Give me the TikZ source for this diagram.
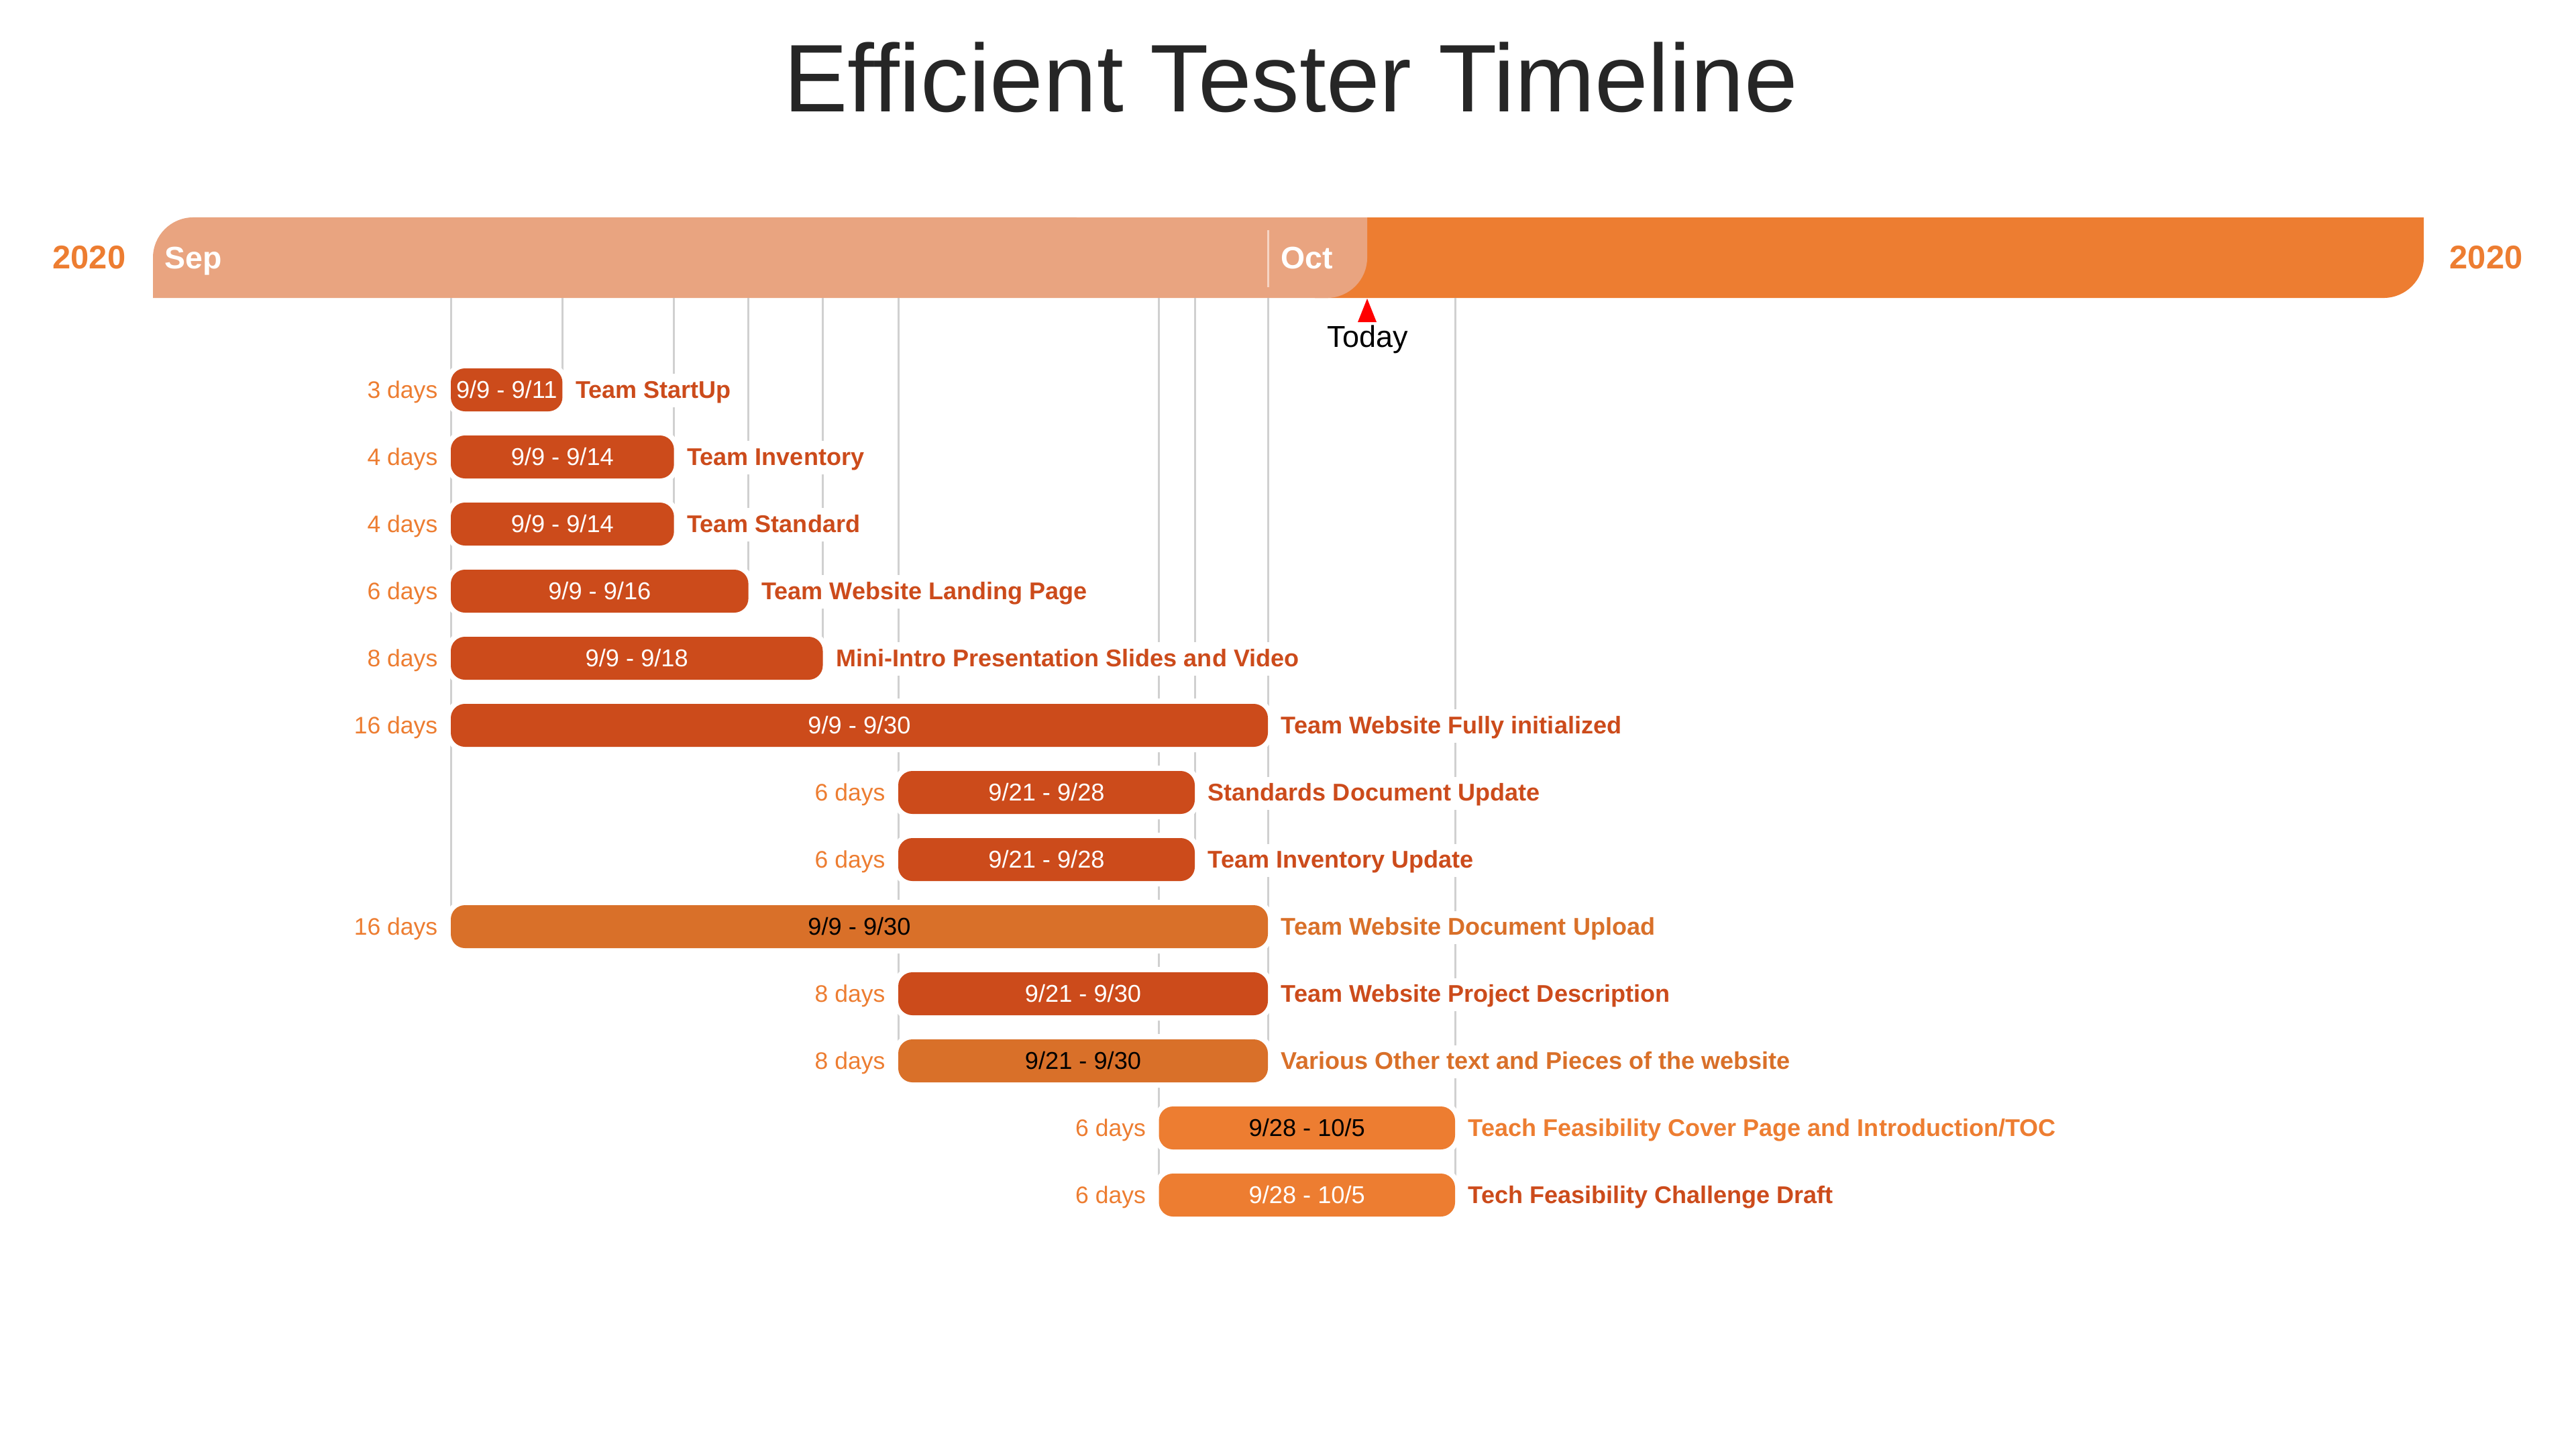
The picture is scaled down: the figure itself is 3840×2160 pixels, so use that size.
\documentclass[tikz,border=0pt]{standalone}
\usepackage{fontspec}
\setmainfont{Liberation Sans}
\definecolor{hdrlight}{RGB}{233,164,128}
\definecolor{hdrdark}{RGB}{237,125,49}
\definecolor{bardark}{RGB}{204,75,27}
\definecolor{barmid}{RGB}{217,112,41}
\definecolor{barlight}{RGB}{237,125,49}
\definecolor{gridgray}{RGB}{208,208,208}
\definecolor{titlegray}{RGB}{38,38,38}
\tikzset{
  gridline/.style={draw=gridgray, line width=0.03cm},
  daylbl/.style={anchor=base east, font=\fontsize{10.1pt}{12pt}\selectfont, text=hdrdark, fill=white, inner xsep=0pt, inner ysep=0.05cm, text height=0.31cm, text depth=0.08cm},
  tasklbl/.style={anchor=base west, font=\bfseries\fontsize{10.25pt}{12pt}\selectfont, fill=white, inner xsep=0pt, inner ysep=0.05cm, text height=0.31cm, text depth=0.08cm},
  datelbl/.style={anchor=base, font=\fontsize{10.3pt}{12pt}\selectfont, inner sep=0pt},
  hdrlbl/.style={anchor=base, font=\bfseries\fontsize{13.9pt}{16pt}\selectfont, inner sep=0pt},
  monthlbl/.style={anchor=base west, text=white, font=\bfseries\fontsize{13.2pt}{16pt}\selectfont, inner sep=0pt},
}
\newcounter{rowc}
% \taskrow{y}{x1}{x2}{barcolor}{datecolor}{labelcolor}{dates}{days}{label}
\newcommand{\taskrow}[9]{%
  \stepcounter{rowc}%
  \fill[white, rounded corners=0.29cm] ({#2-8},{-(#1-40)}) rectangle ({#3+8},{-(#1+40)});
  \fill[#4, rounded corners=0.21cm] (#2,{-(#1-32)}) rectangle (#3,{-(#1+32)});
  \node[datelbl, text=#5] (date\arabic{rowc}) at ({(#2+#3)/2},{-(#1+12.5)}) {#7};
  \node[daylbl] (days\arabic{rowc}) at ({#2-19},{-(#1+12.5)}) {#8};
  \node[tasklbl, text=#6] (task\arabic{rowc}) at ({#3+19},{-(#1+12.5)}) {#9};
}
\begin{document}
\begin{tikzpicture}[x=0.01cm, y=0.01cm]
\useasboundingbox (0,0) rectangle (3840,-2160);
% title
\node[anchor=base, font=\fontsize{40.7pt}{48pt}\selectfont, text=titlegray, inner sep=0pt] (title) at (1924,-166) {Efficient Tester Timeline};
% header
\fill[hdrdark] (1960,-324) -- (3613,-324) -- (3613,-384) arc[start angle=0, end angle=-90, radius=0.6cm] -- (1960,-444) -- cycle;
\fill[hdrlight] (228,-444) -- (228,-384) arc[start angle=180, end angle=90, radius=0.6cm] -- (2038,-324) -- (2038,-384) arc[start angle=0, end angle=-90, radius=0.6cm] -- cycle;
\draw[white, opacity=0.55, line width=0.03cm] (1890,-343) -- (1890,-428);
\node[hdrlbl, text=hdrdark] (yl) at (133,-400) {2020};
\node[hdrlbl, text=hdrdark] (yr) at (3706,-400) {2020};
\node[monthlbl] (sep) at (245,-400) {Sep};
\node[monthlbl] (oct) at (1909,-400) {Oct};
% today
\fill[red] (2038,-445) -- (2052,-480) -- (2024,-480) -- cycle;
\node[anchor=base, font=\fontsize{12.8pt}{15pt}\selectfont, inner sep=0pt] (today) at (2039,-517) {Today};
% grid lines
\draw[gridline] (672,-444) -- (672,-1381);
\draw[gridline] (838.4,-444) -- (838.4,-581);
\draw[gridline] (1004.7,-444) -- (1004.7,-781);
\draw[gridline] (1115.6,-444) -- (1115.6,-881);
\draw[gridline] (1226.5,-444) -- (1226.5,-981);
\draw[gridline] (1339,-444) -- (1339,-1581);
\draw[gridline] (1727.5,-444) -- (1727.5,-1781);
\draw[gridline] (1781,-444) -- (1781,-1281);
\draw[gridline] (1890,-444) -- (1890,-1581);
\draw[gridline] (2169,-444) -- (2169,-1781);
% tasks
\taskrow{581}{672}{838.4}{bardark}{white}{bardark}{9/9 - 9/11}{3 days}{Team StartUp}
\taskrow{681}{672}{1004.7}{bardark}{white}{bardark}{9/9 - 9/14}{4 days}{Team Inventory}
\taskrow{781}{672}{1004.7}{bardark}{white}{bardark}{9/9 - 9/14}{4 days}{Team Standard}
\taskrow{881}{672}{1115.6}{bardark}{white}{bardark}{9/9 - 9/16}{6 days}{Team Website Landing Page}
\taskrow{981}{672}{1226.5}{bardark}{white}{bardark}{9/9 - 9/18}{8 days}{Mini-Intro Presentation Slides and Video}
\taskrow{1081}{672}{1890}{bardark}{white}{bardark}{9/9 - 9/30}{16 days}{Team Website Fully initialized}
\taskrow{1181}{1339}{1781}{bardark}{white}{bardark}{9/21 - 9/28}{6 days}{Standards Document Update}
\taskrow{1281}{1339}{1781}{bardark}{white}{bardark}{9/21 - 9/28}{6 days}{Team Inventory Update}
\taskrow{1381}{672}{1890}{barmid}{black}{barmid}{9/9 - 9/30}{16 days}{Team Website Document Upload}
\taskrow{1481}{1339}{1890}{bardark}{white}{bardark}{9/21 - 9/30}{8 days}{Team Website Project Description}
\taskrow{1581}{1339}{1890}{barmid}{black}{barmid}{9/21 - 9/30}{8 days}{Various Other text and Pieces of the website}
\taskrow{1681}{1727.5}{2169}{barlight}{black}{barlight}{9/28 - 10/5}{6 days}{Teach Feasibility Cover Page and Introduction/TOC}
\taskrow{1781}{1727.5}{2169}{barlight}{white}{bardark}{9/28 - 10/5}{6 days}{Tech Feasibility Challenge Draft}
\end{tikzpicture}
\end{document}
